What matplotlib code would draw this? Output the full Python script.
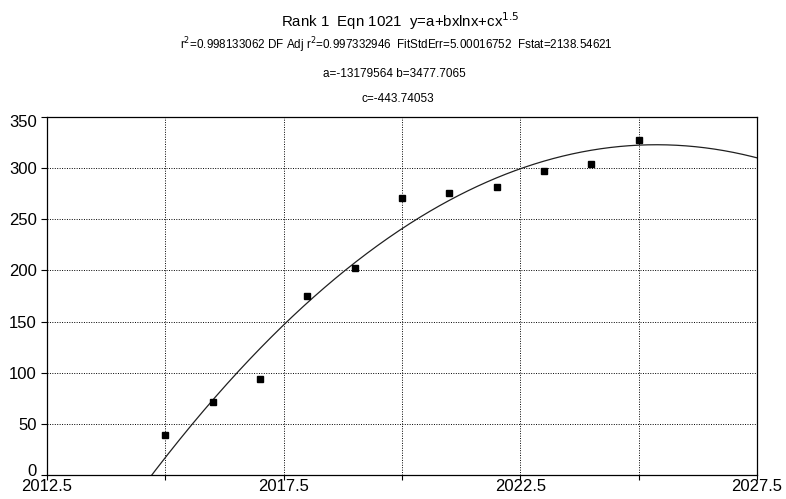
import numpy as np
import matplotlib
matplotlib.use("Agg")
import matplotlib.pyplot as plt
from matplotlib.transforms import ScaledTranslation

plt.rcParams['font.family'] = ['Liberation Sans', 'DejaVu Sans']

# observed values
years = [2015, 2016, 2017, 2018, 2019, 2020, 2021, 2022, 2023, 2024, 2025]
values = [39, 71, 94, 175, 202, 271, 276, 282, 297, 304, 328]

# fitted model y = a + b*x*ln(x) + c*x^1.5
a = -13179564
b = 3477.7065
c = -443.74053

x_ticks = [2012.5, 2017.5, 2022.5, 2027.5]
x_minor = [2015, 2020, 2025]
y_ticks = [0, 50, 100, 150, 200, 250, 300, 350]

fig = plt.figure(figsize=(7.86, 4.99), dpi=100)
ax = fig.add_axes([47 / 786, 1 - 475 / 499, 710 / 786, 358 / 499])

xs = np.linspace(x_ticks[0], x_ticks[-1], 600)
ys = a + b * xs * np.log(xs) + c * xs ** 1.5
ax.plot(xs, ys, color='#202020', lw=0.9)
ax.plot(years, values, 's', color='black', ms=4.8)

ax.set_xlim(x_ticks[0], x_ticks[-1])
ax.set_ylim(y_ticks[0], y_ticks[-1])
ax.set_xticks(x_ticks)
ax.set_xticks(x_minor, minor=True)
ax.set_xticklabels([f'{t:.1f}' for t in x_ticks])
ax.set_yticks(y_ticks)
ax.tick_params(labelsize=12, width=0.8, color='black')
ax.tick_params(axis='x', which='both', length=3.6, width=0.8, pad=-1)
ax.tick_params(axis='y', length=4.5, pad=3)
ax.grid(True, which='both', color='black', lw=0.7, linestyle=(0, (1, 1.5)))
for s in ax.spines.values():
    s.set_linewidth(0.9)

# keep the end labels of the y axis inside the frame
ylabels = ax.get_yticklabels()
ylabels[0].set_transform(ylabels[0].get_transform() + ScaledTranslation(0, 5 / 100, fig.dpi_scale_trans))
ylabels[-1].set_transform(ylabels[-1].get_transform() + ScaledTranslation(0, -4 / 100, fig.dpi_scale_trans))

fig.text(400 / 786, 1 - 27.3 / 499, r'Rank 1  Eqn 1021  y=a+bxlnx+cx$^{1.5}$',
         ha='center', va='baseline', fontsize=10.8)
fig.text(396 / 786, 1 - 49.3 / 499,
         r'r$^2$=0.998133062 DF Adj r$^2$=0.997332946  FitStdErr=5.00016752  Fstat=2138.54621',
         ha='center', va='baseline', fontsize=8.4)
fig.text(394 / 786, 1 - 77.3 / 499, 'a=-13179564 b=3477.7065',
         ha='center', va='baseline', fontsize=8.5)
fig.text(398 / 786, 1 - 101.7 / 499, 'c=-443.74053',
         ha='center', va='baseline', fontsize=8.5)

fig.savefig('out.png', dpi=100)
